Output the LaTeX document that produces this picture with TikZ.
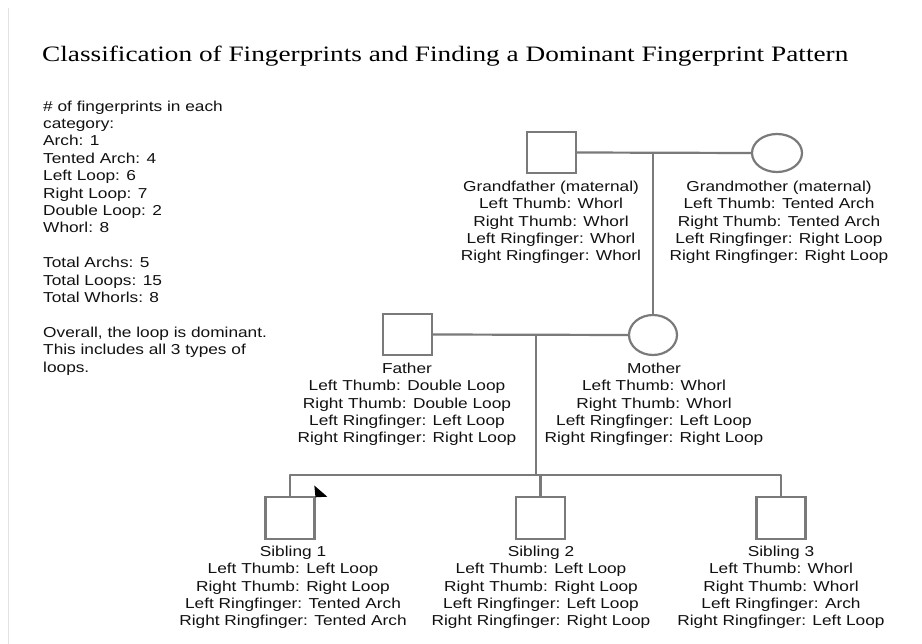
\documentclass[tikz,border=0pt]{standalone}
\usepackage{fontspec}
\usetikzlibrary{shapes.geometric}
\setmainfont{Liberation Sans}[FakeStretch=1.2]
\newfontfamily\titlefont{Liberation Serif}[FakeStretch=1.24]
\definecolor{linegray}{HTML}{7A7A7A}
\definecolor{txt}{HTML}{111111}
\definecolor{frame}{HTML}{E2E2E2}
\begin{document}
\begin{tikzpicture}[x=1pt,y=-1pt,
  male/.style={draw=linegray,line width=2.2pt,minimum width=49pt,minimum height=41pt,inner sep=0pt},
  female/.style={draw=linegray,line width=2.2pt,ellipse,minimum width=49pt,minimum height=38pt,inner sep=0pt},
  conn/.style={draw=linegray,line width=2.2pt},
  lbl/.style={anchor=north,inner sep=0pt,align=center,text=txt,font=\fontsize{14.4}{17.3}\selectfont}]
\useasboundingbox (0,0) rectangle (922,644);
\fill[white] (0,0) rectangle (922,644);
\draw[frame,line width=1pt] (8,8) -- (8,644);
% title
\node[anchor=base west,inner sep=0pt,text=black,font=\titlefont\fontsize{22}{26}\selectfont] (title) at (42,61.5) {Classification of Fingerprints and Finding a Dominant Fingerprint Pattern};
% left notes
\node[anchor=north west,inner sep=0pt,align=left,text=txt,font=\fontsize{14.4}{17.4}\selectfont] (notes) at (43,100.5) {\# of fingerprints in each\\category:\\Arch: 1\\Tented Arch: 4\\Left Loop: 6\\Right Loop: 7\\Double Loop: 2\\Whorl: 8\\[17.4pt]Total Archs: 5\\Total Loops: 15\\Total Whorls: 8\\[17.4pt]Overall, the loop is dominant.\\This includes all 3 types of\\loops.};
% grandparents
\node[male] (gf) at (551.5,152.5) {};
\node[female,minimum width=50pt] (gm) at (777,153) {};
\node[lbl] (gflbl) at (551,181) {Grandfather (maternal)\\Left Thumb: Whorl\\Right Thumb: Whorl\\Left Ringfinger: Whorl\\Right Ringfinger: Whorl};
\node[lbl] (gmlbl) at (779,181) {Grandmother (maternal)\\Left Thumb: Tented Arch\\Right Thumb: Tented Arch\\Left Ringfinger: Right Loop\\Right Ringfinger: Right Loop};
% parents
\node[male] (fa) at (407.5,334.5) {};
\node[female,minimum width=48pt,minimum height=40pt] (mo) at (653,335) {};
\node[lbl] (falbl) at (407,363) {Father\\Left Thumb: Double Loop\\Right Thumb: Double Loop\\Left Ringfinger: Left Loop\\Right Ringfinger: Right Loop};
\node[lbl] (molbl) at (654,363) {Mother\\Left Thumb: Whorl\\Right Thumb: Whorl\\Left Ringfinger: Left Loop\\Right Ringfinger: Right Loop};
% siblings
\node[male,minimum height=42pt] (s1) at (290,518) {};
\node[male,minimum height=42pt] (s2) at (540.5,518) {};
\node[male,minimum height=42pt] (s3) at (781,518) {};
\node[lbl] (s1lbl) at (293,546) {Sibling 1\\Left Thumb: Left Loop\\Right Thumb: Right Loop\\Left Ringfinger: Tented Arch\\Right Ringfinger: Tented Arch};
\node[lbl] (s2lbl) at (541,546) {Sibling 2\\Left Thumb: Left Loop\\Right Thumb: Right Loop\\Left Ringfinger: Left Loop\\Right Ringfinger: Right Loop};
\node[lbl] (s3lbl) at (781,546) {Sibling 3\\Left Thumb: Whorl\\Right Thumb: Whorl\\Left Ringfinger: Arch\\Right Ringfinger: Left Loop};
% junctions
\coordinate (jt) at (653,153);
\coordinate (jp) at (536,335);
\coordinate (jb) at (536,475);
\coordinate (b1) at (290,475);
\coordinate (b2) at (540.5,475);
\coordinate (b3) at (781,475);
% connectors
\draw[conn] (gf.east) -- (gm.west);
\draw[conn] (jt) -- (mo.north);
\draw[conn] (fa.east) -- (mo.west);
\draw[conn] (jp) -- (jb);
\draw[conn,line join=round] (s1.north) -- (b1) -- (b3) -- (s3.north);
\draw[conn] (b2) -- (s2.north);
% cursor mark
\fill[black] (314.3,485.5) -- (315.5,497.3) -- (327.3,496.7) -- cycle;
\end{tikzpicture}
\end{document}
